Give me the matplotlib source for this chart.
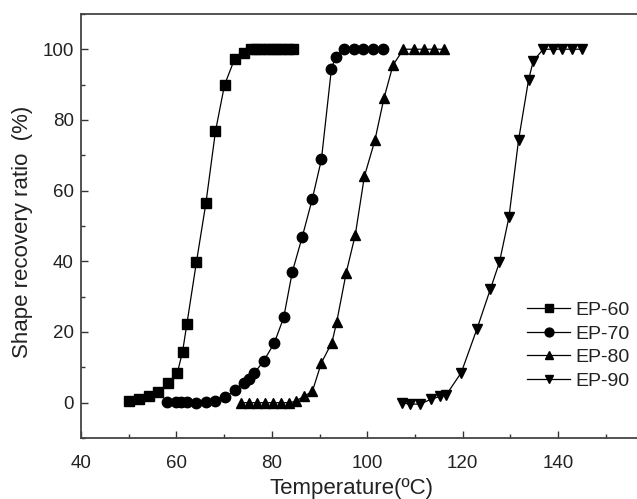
import matplotlib
matplotlib.use("Agg")
import matplotlib.pyplot as plt
from matplotlib.ticker import MultipleLocator

plt.rcParams['font.family'] = ['Liberation Sans', 'DejaVu Sans']

# Shape recovery ratio (%) versus temperature (°C) for four epoxy samples
ep60_t = [50.0, 52.1, 54.2, 56.2, 58.3, 60.2, 61.3, 62.2, 64.2, 66.2, 68.2, 70.1,
          72.2, 74.2, 75.6, 76.7, 77.8, 78.9, 80.0, 81.1, 82.2, 83.3, 84.4]
ep60_r = [0.6, 0.9, 2.0, 3.0, 5.6, 8.4, 14.4, 22.2, 39.7, 56.5, 76.8, 89.9,
          97.2, 98.9, 100, 100, 100, 100, 100, 100, 100, 100, 100]

ep70_t = [58.0, 59.9, 60.9, 62.3, 64.1, 66.2, 68.2, 70.3, 72.2, 74.2, 75.2, 76.3,
          78.3, 80.5, 82.5, 84.3, 86.4, 88.5, 90.4, 92.5, 93.4, 95.2, 97.2, 99.2,
          101.3, 103.4]
ep70_r = [0.1, 0.1, 0.1, 0.1, 0.0, 0.1, 0.6, 1.6, 3.5, 5.5, 6.8, 8.3,
          11.8, 16.8, 24.1, 37.0, 47.0, 57.7, 68.8, 94.5, 97.9, 100, 100, 100,
          100, 100]

ep80_t = [73.5, 75.2, 76.9, 78.6, 80.3, 82.0, 83.7, 85.0, 86.7, 88.5, 90.4, 92.6,
          93.6, 95.6, 97.5, 99.4, 101.6, 103.5, 105.4, 107.6, 109.7, 111.8, 113.9,
          116.0]
ep80_r = [0, 0, 0, 0, 0, 0, 0, 0.4, 1.8, 3.2, 11.3, 17.0,
          22.8, 36.8, 47.5, 64.0, 74.2, 86.1, 95.5, 100, 100, 100, 100,
          100]

ep90_t = [107.3, 109.0, 111.1, 113.4, 115.3, 116.6, 119.7, 123.0, 125.8, 127.7,
          129.7, 131.7, 133.8, 134.8, 136.9, 138.9, 140.9, 143.0, 145.0]
ep90_r = [-0.1, -0.4, -0.4, 1.0, 1.8, 2.3, 8.5, 20.9, 32.1, 39.7,
          52.5, 74.2, 91.3, 96.7, 100, 100, 100, 100, 100]

series = [
    ("EP-60", ep60_t, ep60_r, "s"),
    ("EP-70", ep70_t, ep70_r, "o"),
    ("EP-80", ep80_t, ep80_r, "^"),
    ("EP-90", ep90_t, ep90_r, "v"),
]

x_ticks = [40, 60, 80, 100, 120, 140]
y_ticks = [0, 20, 40, 60, 80, 100]

fig = plt.figure(figsize=(6.37, 4.99), dpi=100)
ax = fig.add_axes([0.127, 0.1222, 0.899, 0.850])

for name, t, r, m in series:
    ax.plot(t, r, color="black", lw=0.9, marker=m, ms=7.5,
            markerfacecolor="black", markeredgecolor="black", label=name)

ax.set_xlim(40, 160)
ax.set_ylim(-10, 110)
ax.set_xticks(x_ticks)
ax.set_yticks(y_ticks)
ax.xaxis.set_minor_locator(MultipleLocator(10))
ax.yaxis.set_minor_locator(MultipleLocator(10))
ax.tick_params(which="both", direction="in", top=False, right=False,
               labelsize=13.5, colors="#333333", labelcolor="#222222")
ax.tick_params(which="major", length=5, width=1.0)
ax.tick_params(which="minor", length=3, width=1.0)
ax.tick_params(axis="x", which="major", pad=12)
ax.tick_params(axis="y", which="major", pad=5)
for sp in ax.spines.values():
    sp.set_color("#444444")
    sp.set_linewidth(1.3)

ax.set_xlabel("Temperature(ºC)", fontsize=16, color="#222222")
ax.set_ylabel("Shape recovery ratio  (%)", fontsize=16, color="#222222")
ax.xaxis.set_label_coords(0.472, -0.094)
ax.yaxis.set_label_coords(-0.084, 0.485)

leg = ax.legend(loc="upper left", bbox_to_anchor=(0.8126, 0.415),
                bbox_transform=fig.transFigure, frameon=False, fontsize=14,
                handlelength=2.2, handletextpad=0.25, labelspacing=0.3,
                borderpad=0.0, markerscale=0.85)
for txt in leg.get_texts():
    txt.set_color("#222222")

fig.savefig("out.png", dpi=100)
